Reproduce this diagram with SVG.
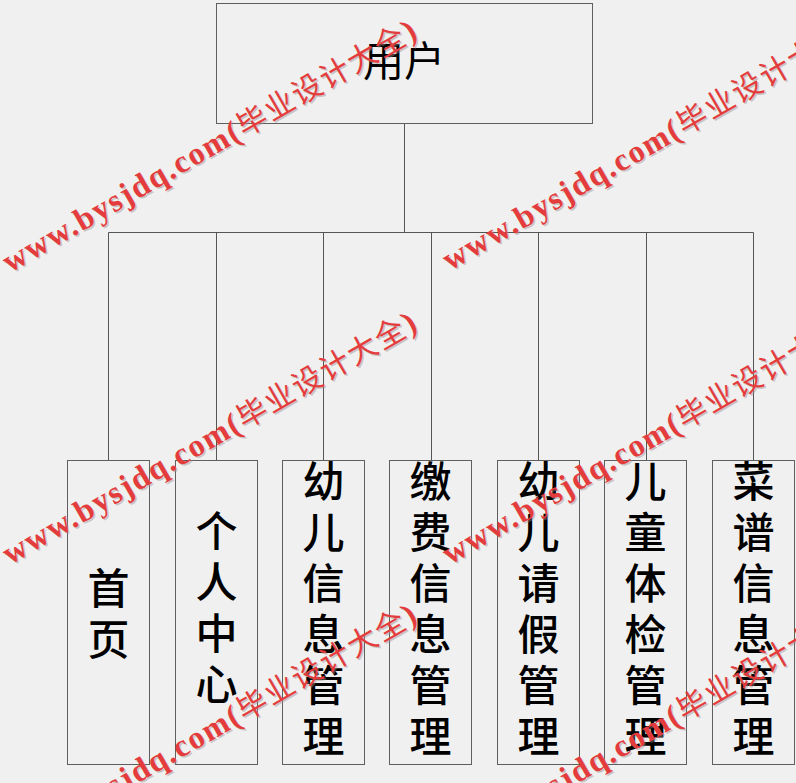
<svg xmlns="http://www.w3.org/2000/svg" width="796" height="783" viewBox="0 0 796 783">
<defs>
<style>
.box{fill:#f0f0f0;stroke:#5f5f5f;stroke-width:1}
.conn{fill:none;stroke:#555;stroke-width:1}
.lbl{font-family:"Noto Sans CJK SC","Noto Sans",sans-serif;font-size:42px;fill:#000;text-anchor:middle;font-weight:500}
.top{font-family:"Noto Sans CJK SC","Noto Sans",sans-serif;font-size:41px;fill:#000;text-anchor:middle}
.wm{font-family:"Liberation Serif","Noto Sans CJK SC",serif;font-size:32px;font-weight:bold}
.wmc{font-family:"Noto Sans CJK SC",sans-serif;font-size:30px;font-weight:normal}
.wmr{fill:#e43c3c}
.wms{fill:#9a8f8f;opacity:0.45}
</style>
<text id="wmt" class="wm" x="0" y="0" textLength="472" lengthAdjust="spacing">www.bysjdq.com(<tspan class="wmc">毕业设计大全</tspan>)</text>
</defs>
<rect width="796" height="783" fill="#f0f0f0"/>
<g id="connectors">
<path class="conn" d="M404.5 123V232.5M108.5 232.5H753.5M108.5 232.5V460M216.5 232.5V460M323.5 232.5V460M431.5 232.5V460M538.5 232.5V460M646.5 232.5V460M753.5 232.5V460"/>
</g>
<g id="n-user"><rect class="box" x="216.5" y="3.5" width="376" height="120"/><text class="top" x="404" y="76">用户</text></g>
<g id="n-home"><rect class="box" x="67.5" y="460.5" width="82" height="304"/><text class="lbl"><tspan x="108.5" y="604">首</tspan><tspan x="108.5" y="655">页</tspan></text></g>
<g id="n-personal"><rect class="box" x="175.5" y="460.5" width="82" height="304"/><text class="lbl"><tspan x="216.5" y="547">个</tspan><tspan x="216.5" y="598">人</tspan><tspan x="216.5" y="649">中</tspan><tspan x="216.5" y="700">心</tspan></text></g>
<g id="n-child"><rect class="box" x="282.5" y="460.5" width="82" height="304"/><text class="lbl"><tspan x="323.5" y="497">幼</tspan><tspan x="323.5" y="548">儿</tspan><tspan x="323.5" y="599">信</tspan><tspan x="323.5" y="650">息</tspan><tspan x="323.5" y="701">管</tspan><tspan x="323.5" y="752">理</tspan></text></g>
<g id="n-fee"><rect class="box" x="389.5" y="460.5" width="82" height="304"/><text class="lbl"><tspan x="430.5" y="497">缴</tspan><tspan x="430.5" y="548">费</tspan><tspan x="430.5" y="599">信</tspan><tspan x="430.5" y="650">息</tspan><tspan x="430.5" y="701">管</tspan><tspan x="430.5" y="752">理</tspan></text></g>
<g id="n-leave"><rect class="box" x="497.5" y="460.5" width="82" height="304"/><text class="lbl"><tspan x="538.5" y="497">幼</tspan><tspan x="538.5" y="548">儿</tspan><tspan x="538.5" y="599">请</tspan><tspan x="538.5" y="650">假</tspan><tspan x="538.5" y="701">管</tspan><tspan x="538.5" y="752">理</tspan></text></g>
<g id="n-health"><rect class="box" x="604.5" y="460.5" width="82" height="304"/><text class="lbl"><tspan x="645.5" y="497">儿</tspan><tspan x="645.5" y="548">童</tspan><tspan x="645.5" y="599">体</tspan><tspan x="645.5" y="650">检</tspan><tspan x="645.5" y="701">管</tspan><tspan x="645.5" y="752">理</tspan></text></g>
<g id="n-menu"><rect class="box" x="712.5" y="460.5" width="82" height="304"/><text class="lbl"><tspan x="753.5" y="497">菜</tspan><tspan x="753.5" y="548">谱</tspan><tspan x="753.5" y="599">信</tspan><tspan x="753.5" y="650">息</tspan><tspan x="753.5" y="701">管</tspan><tspan x="753.5" y="752">理</tspan></text></g>
<g id="watermark">
<use href="#wmt" class="wms" transform="translate(11.5,274.5) rotate(-30)"/><use href="#wmt" class="wmr" transform="translate(10,273) rotate(-30)"/>
<use href="#wmt" class="wms" transform="translate(451.5,272.5) rotate(-30)"/><use href="#wmt" class="wmr" transform="translate(450,271) rotate(-30)"/>
<use href="#wmt" class="wms" transform="translate(11.5,566.5) rotate(-30)"/><use href="#wmt" class="wmr" transform="translate(10,565) rotate(-30)"/>
<use href="#wmt" class="wms" transform="translate(451.5,566.5) rotate(-30)"/><use href="#wmt" class="wmr" transform="translate(450,565) rotate(-30)"/>
<use href="#wmt" class="wms" transform="translate(11.5,858.5) rotate(-30)"/><use href="#wmt" class="wmr" transform="translate(10,857) rotate(-30)"/>
<use href="#wmt" class="wms" transform="translate(451.5,858.5) rotate(-30)"/><use href="#wmt" class="wmr" transform="translate(450,857) rotate(-30)"/>
</g>
</svg>
